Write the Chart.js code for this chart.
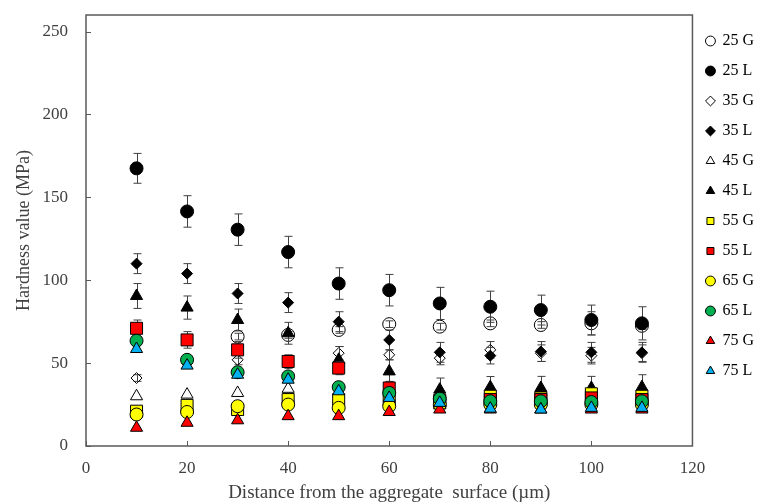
<!DOCTYPE html>
<html>
<head>
<meta charset="utf-8">
<script src="https://cdn.jsdelivr.net/npm/chart.js@4.4.1/dist/chart.umd.min.js"></script>
<style>
  html, body { margin: 0; padding: 0; background: #fff; }
  #wrap { width: 766px; height: 504px; position: relative; }
</style>
</head>
<body>
<div id="wrap"><canvas id="c"></canvas></div>
<script>
const distances = [10, 20, 30, 40, 50, 60, 70, 80, 90, 100, 110];

const g25 = [null, null, 66, 67, 70, 73.5, 72, 74, 73, 74, 72.5];
const l25 = [167.5, 141.5, 130.5, 117, 98, 94, 86, 84, 82, 76, 74];
const g35 = [41, 50, 52, 50, 56, 55, 53, 58, 56, 54.5, 56];
const l35 = [110, 104, 92, 86.5, 75, 64, 56.5, 54.5, 57, 56.5, 56.5];
const g45 = [30, 31, 32, 34.5, 28, 28, 27, 27, 27, 27, 27];
const l45 = [90.5, 83.5, 76, 68, 52, 45, 34, 35.5, 35, 35, 35.5];
const g55 = [21, 24.5, 22, 28, 28, 28, 26, 30, 29, 31.5, 30];
const l55 = [71, 64, 58, 51, 47, 35, 27.5, 28, 28, 29, 28];
const g65 = [19, 20.5, 24, 25, 23, 24, 25, 25, 25, 25, 25];
const l65 = [63.5, 52, 44.5, 42, 35.5, 32, 28.5, 27, 27, 26.5, 27];
const g75 = [11, 14, 15.5, 18, 18, 20.5, 22, 22, 22, 22, 22];
const l75 = [58.5, 48.5, 43, 40, 33, 29, 26, 22.5, 22, 23, 23];

// error bar half-lengths (MPa)
const errG25 = [0, 0, 2, 2, 2, 2, 2, 2, 2, 7, 2];
const errL25 = [9, 9.5, 9.5, 9.5, 9.5, 9.5, 9.7, 9.4, 9, 9, 10];
const errG35 = [2, 2, 3, 3, 4, 3, 4, 5, 5, 5, 5];
const errL35 = [6, 6, 6, 6, 6, 6, 6, 5, 6, 6, 6];
const errL45 = [7.5, 7, 6.6, 6.6, 8, 7, 7, 6.4, 7, 7, 7.5];
const errL55 = [5, 5, 5, 4, 4, 4, 3, 3, 3, 3, 3];

const FONT = "'Liberation Serif', 'Times New Roman', serif";
const INK = '#404040';

const series = [
  ['25 G', g25, errG25, 'circle', 'rgba(0,0,0,0)', 6.5],
  ['25 L', l25, errL25, 'circle', '#000000', 6.5],
  ['35 G', g35, errG35, 'rectRot', 'rgba(0,0,0,0)', 5.5],
  ['35 L', l35, errL35, 'rectRot', '#000000', 5.5],
  ['45 G', g45, null, 'triangle', 'rgba(0,0,0,0)', 7],
  ['45 L', l45, errL45, 'triangle', '#000000', 7],
  ['55 G', g55, null, 'rect', '#FFFF00', 8.5],
  ['55 L', l55, errL55, 'rect', '#FF0000', 8.5],
  ['65 G', g65, null, 'circle', '#FFFF00', 6.5],
  ['65 L', l65, null, 'circle', '#00B050', 6.5],
  ['75 G', g75, null, 'triangle', '#FF0000', 7],
  ['75 L', l75, null, 'triangle', '#00B0F0', 7]
];

const datasets = series.map(([label, vals, errs, style, fill, r], i) => ({
  label,
  data: distances.map((x, k) => ({ x, y: vals[k] })),
  errors: errs,
  pointStyle: style,
  pointRadius: r,
  pointHoverRadius: r,
  pointBackgroundColor: fill,
  pointBorderColor: '#000000',
  pointBorderWidth: 1,
  backgroundColor: fill,
  borderColor: '#000000',
  borderWidth: 1,
  showLine: false,
  order: series.length - i
}));

const errorBars = {
  id: 'errorBars',
  beforeDatasetDraw(chart, args) {
    const ds = chart.data.datasets[args.index];
    if (!ds.errors) return;
    const ys = chart.scales.y, ctx = chart.ctx;
    ctx.save();
    ctx.strokeStyle = INK;
    ctx.lineWidth = 1;
    args.meta.data.forEach((pt, i) => {
      const v = ds.data[i].y, e = ds.errors[i];
      if (v == null || !e) return;
      const top = ys.getPixelForValue(v + e), bot = ys.getPixelForValue(v - e);
      const x = Math.round(pt.x) + 0.5;
      ctx.beginPath();
      ctx.moveTo(x, top); ctx.lineTo(x, bot);
      ctx.moveTo(x - 4, top); ctx.lineTo(x + 4, top);
      ctx.moveTo(x - 4, bot); ctx.lineTo(x + 4, bot);
      ctx.stroke();
    });
    ctx.restore();
  }
};

const frame = {
  id: 'frame',
  beforeDatasetsDraw(chart) {
    const { ctx, chartArea: a, scales } = chart;
    ctx.save();
    ctx.strokeStyle = '#595959';
    ctx.lineWidth = 1.5;
    ctx.strokeRect(a.left, a.top, a.right - a.left, a.bottom - a.top);
    ctx.lineWidth = 1;
    ctx.beginPath();
    scales.x.ticks.forEach(t => {
      const px = Math.round(scales.x.getPixelForValue(t.value)) + 0.5;
      ctx.moveTo(px, a.bottom); ctx.lineTo(px, a.bottom - 5);
    });
    scales.y.ticks.forEach(t => {
      const py = Math.round(scales.y.getPixelForValue(t.value)) + 0.5;
      ctx.moveTo(a.left, py); ctx.lineTo(a.left + 5, py);
    });
    ctx.stroke();
    ctx.restore();
  }
};

new Chart(document.getElementById('c'), {
  type: 'scatter',
  data: { datasets },
  plugins: [errorBars, frame],
  options: {
    responsive: true,
    maintainAspectRatio: false,
    animation: false,
    layout: { padding: { top: 15, right: 2, left: 0, bottom: 0 } },
    plugins: {
      tooltip: { enabled: false },
      legend: {
        position: 'right',
        align: 'start',
        title: { display: true, text: '', font: { size: 1, lineHeight: 1 }, padding: { top: 3, bottom: 0 } },
        labels: {
          usePointStyle: true,
          boxWidth: 8,
          boxHeight: 7,
          padding: 14,
          color: '#000',
          font: { family: FONT, size: 16 },
          sort: (a, b) => a.datasetIndex - b.datasetIndex
        }
      }
    },
    scales: {
      x: {
        type: 'linear',
        min: 0, max: 120,
        grid: { display: false },
        border: { display: false },
        ticks: { stepSize: 20, color: INK, padding: 4, font: { family: FONT, size: 17 } },
        title: { display: true, text: 'Distance from the aggregate  surface (µm)', color: INK,
                 font: { family: FONT, size: 19 }, padding: { top: 0, bottom: 0 } },
        afterFit(s) { s.height = 58; s.paddingLeft = 0; s.paddingRight = 0; }
      },
      y: {
        min: 0, max: 260,
        grid: { display: false },
        border: { display: false },
        ticks: { stepSize: 50, includeBounds: false, color: INK, padding: 10, font: { family: FONT, size: 17 } },
        title: { display: true, text: 'Hardness value (MPa)', color: INK,
                 font: { family: FONT, size: 18 }, padding: { top: 13, bottom: 0 } },
        afterFit(s) { s.width = 86; s.paddingTop = 0; s.paddingBottom = 0; }
      }
    }
  }
});
</script>
</body>
</html>
